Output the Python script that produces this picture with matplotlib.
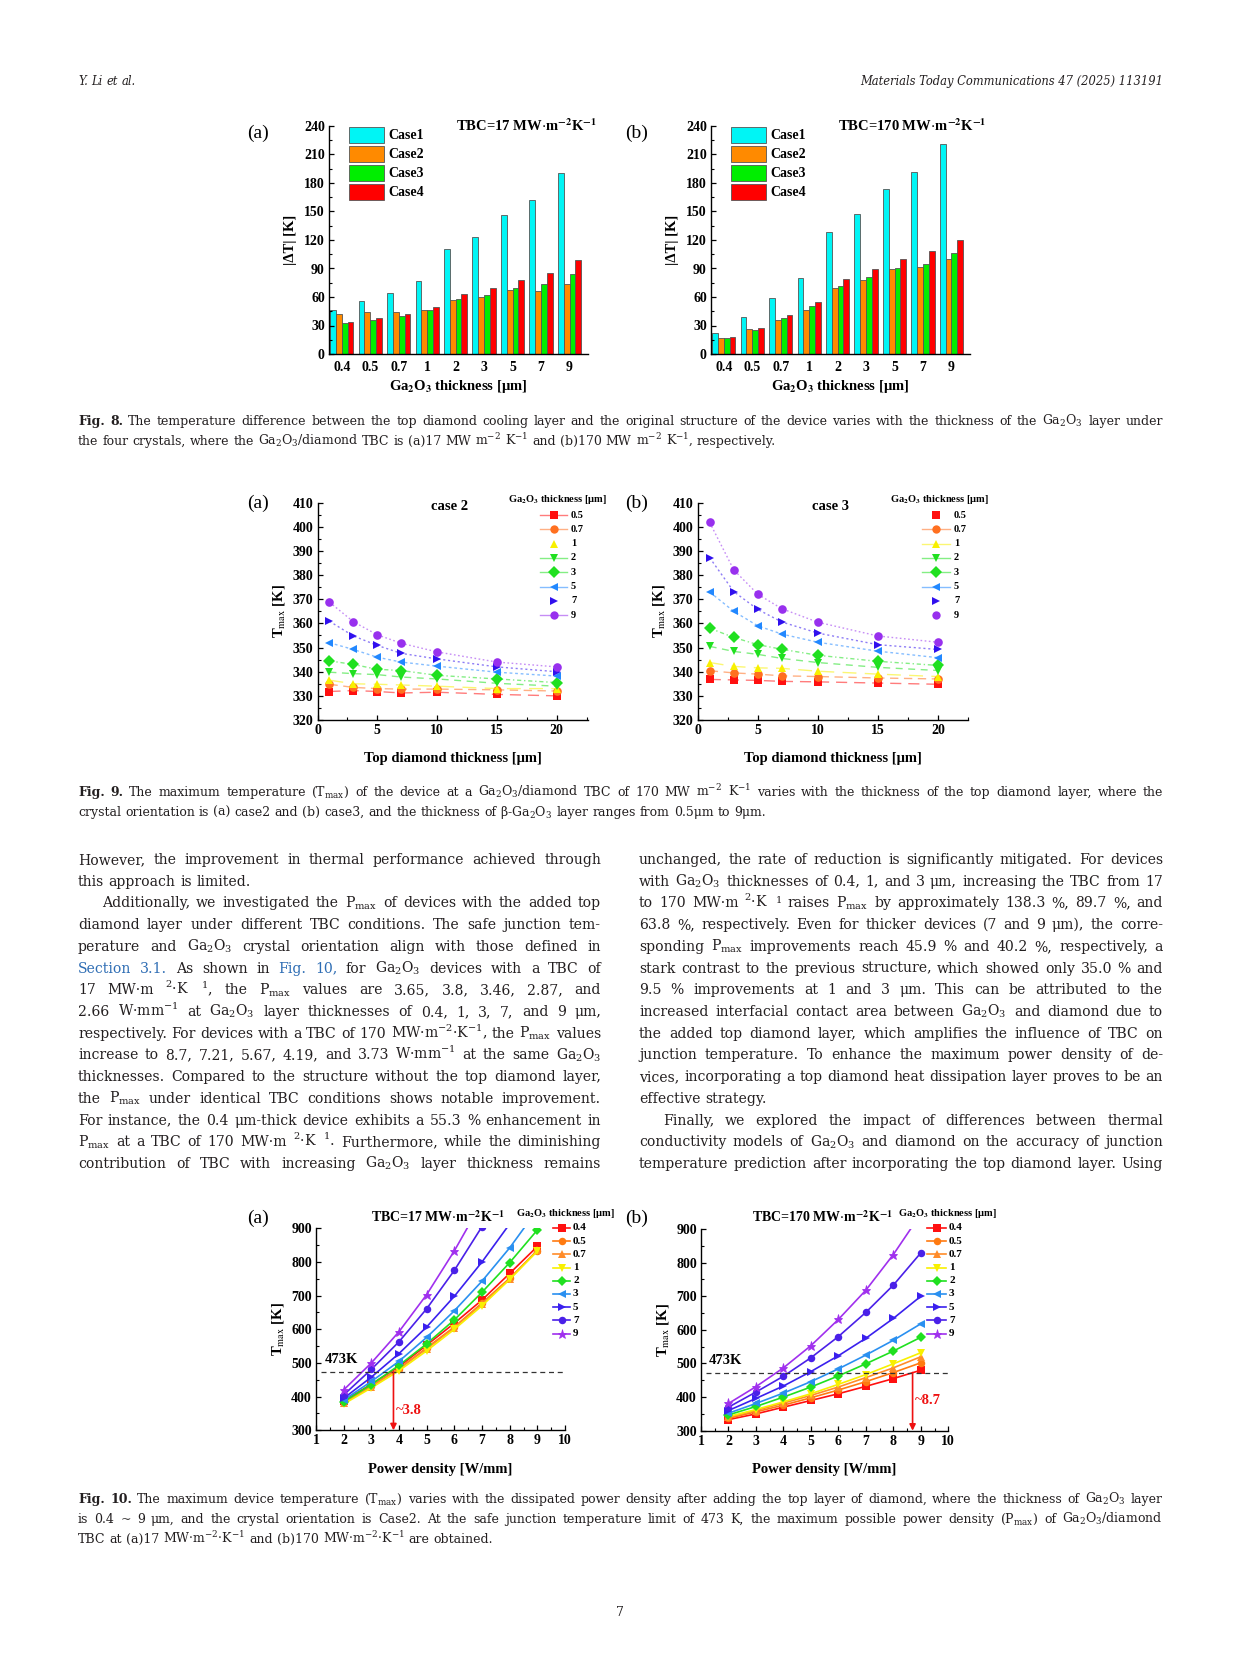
import numpy as np
import matplotlib
matplotlib.use('Agg')
import matplotlib.pyplot as plt
from matplotlib.ticker import MultipleLocator
from matplotlib.patches import Rectangle
from matplotlib.lines import Line2D

# ---------------- data ----------------
fig8_categories = ['0.4', '0.5', '0.7', '1', '2', '3', '5', '7', '9']
fig8_cases = ['Case1', 'Case2', 'Case3', 'Case4']
fig8a_case1 = [46, 56, 64.5, 77, 110.5, 123.5, 146, 162, 191]
fig8a_case2 = [42.5, 44, 44.5, 46, 57, 59.5, 67, 66.5, 73.5]
fig8a_case3 = [32.5, 35.5, 40, 46, 57.5, 62, 69, 74, 84]
fig8a_case4 = [33.5, 37.5, 42.5, 49, 63.5, 69.5, 78, 85.5, 98.5]
fig8b_case1 = [22.5, 38.5, 58.5, 80, 128, 147.5, 174, 191.5, 221]
fig8b_case2 = [16.5, 26, 35.5, 46, 69.5, 78, 89.5, 91.5, 99.5]
fig8b_case3 = [16.5, 25.5, 37.5, 50.5, 72, 81, 90, 95, 106]
fig8b_case4 = [18, 27, 41, 54.5, 79, 89, 99.5, 108, 120]

fig9_thickness = ['0.5', '0.7', '1', '2', '3', '5', '7', '9']
fig9_diamond = [1, 3, 5, 7, 10, 15, 20]
fig9a_t05 = [331.8, 332.2, 331.8, 331.2, 331.5, 330.6, 330.0]
fig9a_t07 = [334.8, 333.5, 333.0, 332.8, 332.8, 332.5, 332.0]
fig9a_t1 = [336.5, 335.0, 334.8, 334.5, 334.0, 333.0, 333.0]
fig9a_t2 = [339.8, 339.2, 338.8, 337.8, 337.0, 335.2, 334.0]
fig9a_t3 = [344.5, 343.0, 341.0, 340.5, 338.5, 337.0, 335.5]
fig9a_t5 = [352.0, 349.2, 346.0, 344.0, 342.3, 339.8, 338.2]
fig9a_t7 = [360.9, 354.8, 350.9, 347.6, 345.3, 342.0, 340.0]
fig9a_t9 = [368.8, 360.7, 355.3, 351.8, 348.2, 344.0, 342.0]
fig9b_t05 = [336.8, 336.6, 336.4, 336.0, 335.8, 335.3, 334.8]
fig9b_t07 = [340.4, 339.5, 339.0, 338.3, 338.0, 337.4, 337.0]
fig9b_t1 = [343.8, 342.2, 341.6, 341.4, 340.2, 339.0, 338.0]
fig9b_t2 = [350.5, 348.4, 347.2, 345.5, 343.8, 341.8, 340.5]
fig9b_t3 = [358.0, 354.2, 351.2, 349.3, 346.8, 344.3, 342.6]
fig9b_t5 = [373.0, 365.0, 359.0, 355.6, 352.2, 348.5, 345.8]
fig9b_t7 = [387.2, 373.2, 365.8, 360.6, 356.0, 351.2, 349.2]
fig9b_t9 = [401.8, 382.2, 372.1, 366.1, 360.5, 354.8, 352.2]

fig10_thickness = ['0.4', '0.5', '0.7', '1', '2', '3', '5', '7', '9']
fig10_power = [2, 3, 4, 5, 6, 7, 8, 9]
fig10a_t04 = [387, 437, 489, 553, 618, 687, 766, 846]
fig10a_t05 = [383, 432, 483, 545, 607, 678, 752, 833]
fig10a_t07 = [382, 430, 482, 542, 605, 675, 750, 835]
fig10a_t1 = [378, 426, 477, 536, 600, 670, 748, 832]
fig10a_t2 = [385, 436, 493, 557, 628, 710, 798, 895]
fig10a_t3 = [390, 445, 505, 576, 655, 743, 842, 955]
fig10a_t5 = [395, 458, 528, 607, 698, 800, 913, 1040]
fig10a_t7 = [405, 481, 563, 661, 775, 905, 1045, 1200]
fig10a_t9 = [420, 500, 593, 703, 833, 978, 1140, 1320]
fig10b_t04 = [333, 350, 370, 390, 410, 432, 455, 480]
fig10b_t05 = [337, 356, 376, 398, 421, 446, 473, 502]
fig10b_t07 = [340, 360, 382, 405, 430, 458, 487, 520]
fig10b_t1 = [342, 363, 386, 410, 438, 467, 499, 532]
fig10b_t2 = [347, 372, 400, 430, 463, 499, 537, 578]
fig10b_t3 = [352, 381, 412, 446, 484, 525, 569, 618]
fig10b_t5 = [360, 396, 433, 476, 523, 575, 634, 700]
fig10b_t7 = [370, 415, 462, 517, 580, 652, 733, 829]
fig10b_t9 = [381, 431, 487, 553, 631, 718, 824, 945]
safe_limit = 473
pmax_a = 3.8
pmax_b = 8.7

# ---------------- style ----------------
W, H = 1241, 1654
plt.rcParams['mathtext.fontset'] = 'stix'
PF = 'Liberation Serif'
BF = 'DejaVu Serif'
TXT = '#231f20'
LINK = '#2e6db4'

fig = plt.figure(figsize=(W / 100, H / 100), dpi=100)
page = fig.add_axes([0, 0, 1, 1])
page.set_xlim(0, W)
page.set_ylim(H, 0)
page.axis('off')
renderer = fig.canvas.get_renderer()


def add_ax(l, t, r, b):
    return fig.add_axes([l / W, 1 - b / H, (r - l) / W, (b - t) / H])


def style_ax(ax):
    for s in ['top', 'right']:
        ax.spines[s].set_visible(False)
    for s in ['left', 'bottom']:
        ax.spines[s].set_linewidth(1.0)
    ax.tick_params(which='major', direction='in', length=3.5, width=0.9,
                   labelsize=10, pad=3)
    ax.tick_params(which='minor', direction='in', length=2, width=0.8)
    for lab in ax.get_xticklabels() + ax.get_yticklabels():
        lab.set_fontfamily(PF)
        lab.set_fontweight('bold')
    ax.patch.set_alpha(0)


def ptext(x, y, s, size=10, weight='bold', ha='left', va='center', color='black',
          family=PF, **kw):
    return page.text(x, y, s, fontsize=size, fontweight=weight, ha=ha, va=va,
                     color=color, family=family, **kw)


# ---------------- Figure 8 ----------------
case_colors = ['#00F5F5', '#FF8A00', '#00EE00', '#FF0000']
fig8_sets = [
    (329, 588, [fig8a_case1, fig8a_case2, fig8a_case3, fig8a_case4], '(a)', 247,
     r'TBC=17 MW$\cdot$m$^{\mathbf{-2}}$K$^{\mathbf{-1}}$', 527, 349),
    (711, 970, [fig8b_case1, fig8b_case2, fig8b_case3, fig8b_case4], '(b)', 625,
     r'TBC=170 MW$\cdot$m$^{\mathbf{-2}}$K$^{\mathbf{-1}}$', 912, 731),
]
for (l, r, series, plab, plx, tbc, tbcx, legx) in fig8_sets:
    ax = add_ax(l, 126, r, 354)
    xs = np.arange(len(fig8_categories))
    bw = 0.205
    for k, vals in enumerate(series):
        ax.bar(xs + (k - 1.5) * bw, vals, width=bw, color=case_colors[k],
               edgecolor='#555555', linewidth=0.6)
    ax.set_xlim(-0.45, 8.65)
    ax.set_ylim(0, 240)
    ax.set_xticks(xs)
    ax.set_xticklabels(fig8_categories)
    ax.set_yticks(np.arange(0, 241, 30))
    ax.yaxis.set_minor_locator(MultipleLocator(15))
    style_ax(ax)
    ax.tick_params(axis='x', which='both', length=0, pad=5)
    ax.set_ylabel('|ΔT| [K]', fontsize=10.5, fontweight='bold', family=PF, labelpad=5)
    ax.set_xlabel(r'Ga$_\mathbf{2}$O$_\mathbf{3}$ thickness [μm]', fontsize=10.5,
                  fontweight='bold', family=PF, labelpad=3)
    ptext(plx, 133, plab, size=14, weight='normal')
    ptext(tbcx, 126, tbc, size=10.5, ha='center')
    for k, name in enumerate(fig8_cases):
        page.add_patch(Rectangle((legx, 127 + k * 19), 35, 16, facecolor=case_colors[k],
                                 edgecolor='#555555', linewidth=0.6))
        ptext(legx + 39, 135.5 + k * 19, name, size=10)

# ---------------- Figure 9 ----------------
f9_colors = ['#FF1010', '#FF7020', '#F8F000', '#20E020', '#20E020', '#2288FF', '#3010EE', '#9830EE']
f9_markers = ['s', 'o', '^', 'v', 'D', '<', '>', 'o']
f9_dashes = [(8, 5), (6, 4), (10, 6), (5, 4), (3, 2, 1, 2), (2, 2), (1.5, 2), (1.2, 1.8)]
f9_sets = [
    (317.5, 587.7, 22.6, [fig9a_t05, fig9a_t07, fig9a_t1, fig9a_t2, fig9a_t3, fig9a_t5, fig9a_t7, fig9a_t9],
     '(a)', 247, 'case 2', 450, 508, 540, 567,
     [True, True, False, True, True, True, False, True]),
    (697.7, 968, 22.5, [fig9b_t05, fig9b_t07, fig9b_t1, fig9b_t2, fig9b_t3, fig9b_t5, fig9b_t7, fig9b_t9],
     '(b)', 625, 'case 3', 830, 890, 922, 950,
     [False, True, True, True, True, True, False, False]),
]
for (l, r, xmax, series, plab, plx, case, casex, titx, lx0, lx1, leglines) in f9_sets:
    ax = add_ax(l, 502.7, r, 720)
    for k, vals in enumerate(series):
        ax.plot(fig9_diamond, vals, color=f9_colors[k], lw=1.0, alpha=0.55,
                dashes=f9_dashes[k])
        ax.plot(fig9_diamond, vals, ls='none', marker=f9_markers[k], ms=6.2,
                color=f9_colors[k], markeredgewidth=0)
    ax.set_xlim(0, xmax)
    ax.set_ylim(320, 410)
    ax.set_xticks([0, 5, 10, 15, 20])
    ax.xaxis.set_minor_locator(MultipleLocator(2.5))
    ax.set_yticks(np.arange(320, 411, 10))
    ax.yaxis.set_minor_locator(MultipleLocator(5))
    style_ax(ax)
    ax.set_ylabel(r'T$_{\mathrm{max}}$ [K]', fontsize=10.5, fontweight='bold', family=PF, labelpad=4)
    ax.set_xlabel('Top diamond thickness [μm]', fontsize=10.5, fontweight='bold',
                  family=PF, labelpad=11)
    ptext(plx, 503, plab, size=14, weight='normal')
    ptext(casex, 506, case, size=10.5, ha='center')
    ptext(titx, 499, r'Ga$_\mathbf{2}$O$_\mathbf{3}$ thickness [μm]', size=7.5)
    for k, name in enumerate(fig9_thickness):
        yy = 515 + k * 14.3
        if leglines[k]:
            page.add_line(Line2D([lx0, lx1], [yy, yy], color=f9_colors[k], lw=1.0, alpha=0.55))
        page.add_line(Line2D([(lx0 + lx1) / 2], [yy], marker=f9_markers[k], ms=6,
                             color=f9_colors[k], markeredgewidth=0, ls='none'))
        ptext(lx1 + 4, yy, name, size=7.5)

# ---------------- Figure 10 ----------------
f10_colors = ['#FF1010', '#FF7A10', '#FF8C2A', '#F8F000', '#20E020', '#2A90F0', '#3A20EE', '#4A20E8', '#A030EE']
f10_markers = ['s', 'o', '^', 'v', 'D', '<', '>', 'o', '*']
f10_sets = [
    (316, 565, 1228.3, 1430.3,
     [fig10a_t04, fig10a_t05, fig10a_t07, fig10a_t1, fig10a_t2, fig10a_t3, fig10a_t5, fig10a_t7, fig10a_t9],
     '(a)', 247, r'TBC=17 MW$\cdot$m$^{\mathbf{-2}}$K$^{\mathbf{-1}}$', 438, 516, 553, 570, pmax_a,
     '~3.8'),
    (701, 948.3, 1229, 1430.7,
     [fig10b_t04, fig10b_t05, fig10b_t07, fig10b_t1, fig10b_t2, fig10b_t3, fig10b_t5, fig10b_t7, fig10b_t9],
     '(b)', 625, r'TBC=170 MW$\cdot$m$^{\mathbf{-2}}$K$^{\mathbf{-1}}$', 822, 898, 927, 946, pmax_b,
     '~8.7'),
]
for (l, r, t, b, series, plab, plx, tbc, tbcx, titx, lx0, lx1, pm, pmtxt) in f10_sets:
    ax = add_ax(l, t, r, b)
    for k, vals in enumerate(series):
        ax.plot(fig10_power, vals, color=f10_colors[k], lw=1.2,
                marker=f10_markers[k], ms=(6.5 if f10_markers[k] == '*' else 5.4),
                markeredgewidth=0 if f10_markers[k] != '*' else 0.6)
    ax.axhline(safe_limit, xmin=0.02, xmax=1.0, color='#333333', lw=0.9, dashes=(4, 3))
    ax.annotate('', xy=(pm, 300), xytext=(pm, safe_limit),
                arrowprops=dict(arrowstyle='-|>', color='#EE1111', lw=1.2,
                                mutation_scale=9, shrinkA=0, shrinkB=0))
    ax.text(pm + 0.08, 360 if pm < 5 else 390, pmtxt, color='#EE1111', fontsize=10.5,
            fontweight='bold', family=PF, va='center')
    ax.text(1.3, 490, '473K', fontsize=10.5, fontweight='bold', family=PF, va='bottom')
    ax.set_xlim(1, 10)
    ax.set_ylim(300, 900)
    ax.set_xticks(range(1, 11))
    ax.xaxis.set_minor_locator(MultipleLocator(0.5))
    ax.set_yticks(range(300, 901, 100))
    ax.yaxis.set_minor_locator(MultipleLocator(50))
    style_ax(ax)
    ax.set_ylabel(r'T$_{\mathrm{max}}$ [K]', fontsize=10.5, fontweight='bold', family=PF, labelpad=4)
    ax.set_xlabel('Power density [W/mm]', fontsize=10.5, fontweight='bold', family=PF,
                  labelpad=11)
    ptext(plx, 1218, plab, size=14, weight='normal')
    ptext(tbcx, 1217, tbc, size=10, ha='center')
    ptext(titx, 1214, r'Ga$_\mathbf{2}$O$_\mathbf{3}$ thickness [μm]', size=7.5)
    for k, name in enumerate(fig10_thickness):
        yy = 1228 + k * 13.2
        page.add_line(Line2D([lx0, lx1], [yy, yy], color=f10_colors[k], lw=1.2))
        page.add_line(Line2D([(lx0 + lx1) / 2], [yy], marker=f10_markers[k],
                             ms=(6.5 if f10_markers[k] == '*' else 5.4), color=f10_colors[k],
                             markeredgewidth=0 if f10_markers[k] != '*' else 0.5, ls='none'))
        ptext(lx1 + 3, yy, name, size=8)


# ---------------- page text ----------------
def text_line(x0, x1, y, s, size, justify=True, family=BF, style='normal'):
    objs = []
    for tok in s.split(' '):
        c, w = TXT, 'normal'
        if tok.startswith('§'):
            tok, c = tok[1:], LINK
        if tok.startswith('¤'):
            tok, w = tok[1:], 'bold'
        objs.append(page.text(0, y, tok, fontsize=size, family=family, color=c,
                              fontweight=w, fontstyle=style, ha='left', va='baseline',
                              math_fontfamily='dejavuserif'))
    widths = [o.get_window_extent(renderer).width for o in objs]
    space = size * 100 / 72 * 0.32
    if justify and len(objs) > 1:
        gap = max((x1 - x0 - sum(widths)) / (len(objs) - 1), space * 0.6)
    else:
        gap = space
    x = x0
    for o, wd in zip(objs, widths):
        o.set_x(x)
        x += wd + gap


GO = r'Ga$_2$O$_3$'
PM = r'P$_{\mathrm{max}}$'
TM = r'T$_{\mathrm{max}}$'

text_line(78, 400, 85, 'Y. Li et al.', 8.3, justify=False, style='italic')
page.text(1163, 85, 'Materials Today Communications 47 (2025) 113191', fontsize=8.3,
          family=BF, style='italic', ha='right', va='baseline', color=TXT)

CL, CR = 78, 1163
cap8 = [
    f'¤Fig. ¤8. The temperature difference between the top diamond cooling layer and the original structure of the device varies with the thickness of the {GO} layer under',
    f'the four crystals, where the {GO}/diamond TBC is (a)17 MW m$^{{-2}}$ K$^{{-1}}$ and (b)170 MW m$^{{-2}}$ K$^{{-1}}$, respectively.',
]
cap9 = [
    f'¤Fig. ¤9. The maximum temperature ({TM}) of the device at a {GO}/diamond TBC of 170 MW m$^{{-2}}$ K$^{{-1}}$ varies with the thickness of the top diamond layer, where the',
    'crystal orientation is (a) case2 and (b) case3, and the thickness of β-Ga$_2$O$_3$ layer ranges from 0.5μm to 9μm.',
]
cap10 = [
    f'¤Fig. ¤10. The maximum device temperature ({TM}) varies with the dissipated power density after adding the top layer of diamond, where the thickness of {GO} layer',
    f'is 0.4 ~ 9 μm, and the crystal orientation is Case2. At the safe junction temperature limit of 473 K, the maximum possible power density ({PM}) of {GO}/diamond',
    'TBC at (a)17 MW·m$^{-2}$·K$^{-1}$ and (b)170 MW·m$^{-2}$·K$^{-1}$ are obtained.',
]
for ys, lines in [((425, 445), cap8), ((796, 816), cap9), ((1503, 1523, 1543), cap10)]:
    for i, (yy, ln) in enumerate(zip(ys, lines)):
        text_line(CL, CR, yy, ln, 9.0, justify=(i < len(lines) - 1))

left_col = [
    ('However, the improvement in thermal performance achieved through', True, 0),
    ('this approach is limited.', False, 0),
    (f'Additionally, we investigated the {PM} of devices with the added top', True, 24),
    ('diamond layer under different TBC conditions. The safe junction tem-', True, 0),
    (f'perature and {GO} crystal orientation align with those defined in', True, 0),
    (f'§Section §3.1. As shown in §Fig. §10, for {GO} devices with a TBC of', True, 0),
    (f'17 MW·m $^{{2}}$·K $^{{1}}$, the {PM} values are 3.65, 3.8, 3.46, 2.87, and', True, 0),
    (f'2.66 W·mm$^{{-1}}$ at {GO} layer thicknesses of 0.4, 1, 3, 7, and 9 μm,', True, 0),
    (f'respectively. For devices with a TBC of 170 MW·m$^{{-2}}$·K$^{{-1}}$, the {PM} values', True, 0),
    (f'increase to 8.7, 7.21, 5.67, 4.19, and 3.73 W·mm$^{{-1}}$ at the same {GO}', True, 0),
    ('thicknesses. Compared to the structure without the top diamond layer,', True, 0),
    (f'the {PM} under identical TBC conditions shows notable improvement.', True, 0),
    ('For instance, the 0.4 μm-thick device exhibits a 55.3 % enhancement in', True, 0),
    (f'{PM} at a TBC of 170 MW·m $^{{2}}$·K $^{{1}}$. Furthermore, while the diminishing', True, 0),
    (f'contribution of TBC with increasing {GO} layer thickness remains', True, 0),
]
right_col = [
    ('unchanged, the rate of reduction is significantly mitigated. For devices', True, 0),
    (f'with {GO} thicknesses of 0.4, 1, and 3 μm, increasing the TBC from 17', True, 0),
    (f'to 170 MW·m $^{{2}}$·K $^{{1}}$ raises {PM} by approximately 138.3 %, 89.7 %, and', True, 0),
    ('63.8 %, respectively. Even for thicker devices (7 and 9 μm), the corre-', True, 0),
    (f'sponding {PM} improvements reach 45.9 % and 40.2 %, respectively, a', True, 0),
    ('stark contrast to the previous structure, which showed only 35.0 % and', True, 0),
    ('9.5 % improvements at 1 and 3 μm. This can be attributed to the', True, 0),
    (f'increased interfacial contact area between {GO} and diamond due to', True, 0),
    ('the added top diamond layer, which amplifies the influence of TBC on', True, 0),
    ('junction temperature. To enhance the maximum power density of de-', True, 0),
    ('vices, incorporating a top diamond heat dissipation layer proves to be an', True, 0),
    ('effective strategy.', False, 0),
    ('Finally, we explored the impact of differences between thermal', True, 24),
    (f'conductivity models of {GO} and diamond on the accuracy of junction', True, 0),
    ('temperature prediction after incorporating the top diamond layer. Using', True, 0),
]
for x0, x1, col in [(78, 601, left_col), (639, 1163, right_col)]:
    for i, (ln, just, ind) in enumerate(col):
        yy = 864 + i * 21.72
        text_line(x0 + ind, x1, yy, ln, 10.1, justify=just)

page.text(620, 1616, '7', fontsize=9, family=BF, ha='center', va='baseline', color=TXT)

fig.savefig('out.png', dpi=100)
